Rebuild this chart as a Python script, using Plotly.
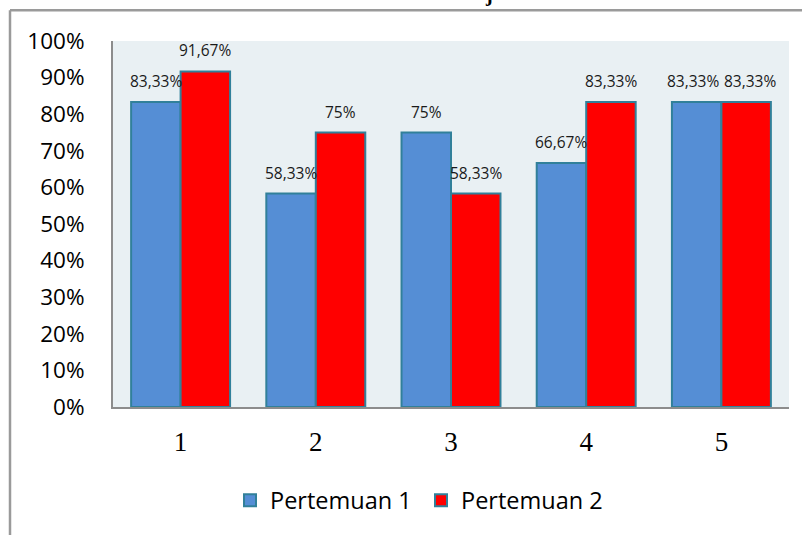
import plotly.graph_objects as go

# --- data -----------------------------------------------------------------
categories = ["1", "2", "3", "4", "5"]
series_names = ["Pertemuan 1", "Pertemuan 2"]
pertemuan_1 = [83.33, 58.33, 75, 66.67, 83.33]
pertemuan_2 = [91.67, 75, 58.33, 83.33, 83.33]
y_tick_values = [0, 10, 20, 30, 40, 50, 60, 70, 80, 90, 100]
y_tick_labels = ["0%", "10%", "20%", "30%", "40%", "50%", "60%", "70%", "80%", "90%", "100%"]

# --- geometry / style -----------------------------------------------------
W, H = 802, 535
M_L, M_R, M_T, M_B = 113, 13, 41, 126
PLOT_W = W - M_L - M_R
PLOT_H = H - M_T - M_B
BARGAP = 0.268
BLUE = "#558ed5"
RED = "#ff0000"
EDGE = "#31809a"
GREY = "#8c8c8c"
SANS = "Open Sans"
SERIF = "Liberation Serif"


def px_x(px):
    return (px - M_L) / PLOT_W


def px_y(py):
    return (H - M_B - py) / PLOT_H


def pct_label(v):
    s = f"{v:.2f}".rstrip("0").rstrip(".")
    return s.replace(".", ",") + "%"


fig = go.Figure()
for name, values, color in [
    (series_names[0], pertemuan_1, BLUE),
    (series_names[1], pertemuan_2, RED),
]:
    fig.add_trace(go.Bar(
        name=name, x=categories, y=values,
        marker=dict(color=color, line=dict(color=EDGE, width=2)),
    ))

# value labels floating above each bar (x given as category index);
# labels of equal height in one group are nudged apart so they don't collide
half_bar_px = (1 - BARGAP) / 4 * PLOT_W / len(categories)
annotations = []
for values, other, sign in [(pertemuan_1, pertemuan_2, -1), (pertemuan_2, pertemuan_1, 1)]:
    for idx, v in enumerate(values):
        nudge = 4 if abs(v - other[idx]) < 3 else 0
        annotations.append(dict(
            x=idx, y=v, xref="x", yref="y", text=pct_label(v),
            showarrow=False, xshift=sign * (half_bar_px + nudge), yshift=21,
            yanchor="middle", font=dict(family=SANS, size=15.5, color="#1a1a1a"),
        ))

# heading letter cut off by the top edge of the frame
annotations.append(dict(
    x=px_x(489), y=px_y(8), xref="paper", yref="paper", text="<b>j</b>",
    showarrow=False, yanchor="bottom", xanchor="center",
    font=dict(family=SERIF, size=20, color="black"),
))

# outer frame (left and top edges)
shapes = [
    dict(type="line", xref="paper", yref="paper",
         x0=px_x(10), y0=px_y(10), x1=px_x(10), y1=px_y(H + 5),
         line=dict(color="#9a9a9a", width=2.5)),
    dict(type="line", xref="paper", yref="paper",
         x0=px_x(10), y0=px_y(10), x1=px_x(W + 5), y1=px_y(10),
         line=dict(color="#9a9a9a", width=2.5)),
]

fig.update_layout(
    width=W, height=H,
    margin=dict(l=M_L, r=M_R, t=M_T, b=M_B, pad=0),
    paper_bgcolor="white", plot_bgcolor="#e9f0f3",
    barmode="group", bargap=BARGAP, bargroupgap=0,
    showlegend=True,
    legend=dict(
        orientation="h", x=px_x(230), xanchor="left",
        y=px_y(503), yanchor="middle", entrywidth=146,
        font=dict(family=SANS, size=23.5, color="black"),
        bgcolor="rgba(0,0,0,0)", traceorder="normal",
    ),
    annotations=annotations, shapes=shapes,
    xaxis=dict(
        type="category", range=[-0.5, len(categories) - 0.5],
        showgrid=False, zeroline=False,
        showline=True, linecolor=GREY, linewidth=2,
        ticks="", ticklabelstandoff=10,
        tickfont=dict(family=SERIF, size=27, color="black"),
    ),
    yaxis=dict(
        range=[0, 100], showgrid=False, zeroline=False,
        showline=True, linecolor=GREY, linewidth=2,
        tickmode="array", tickvals=y_tick_values, ticktext=y_tick_labels,
        ticks="", ticklabelstandoff=22,
        tickfont=dict(family=SANS, size=22.5, color="black"),
    ),
)

fig.write_html("out.html")
